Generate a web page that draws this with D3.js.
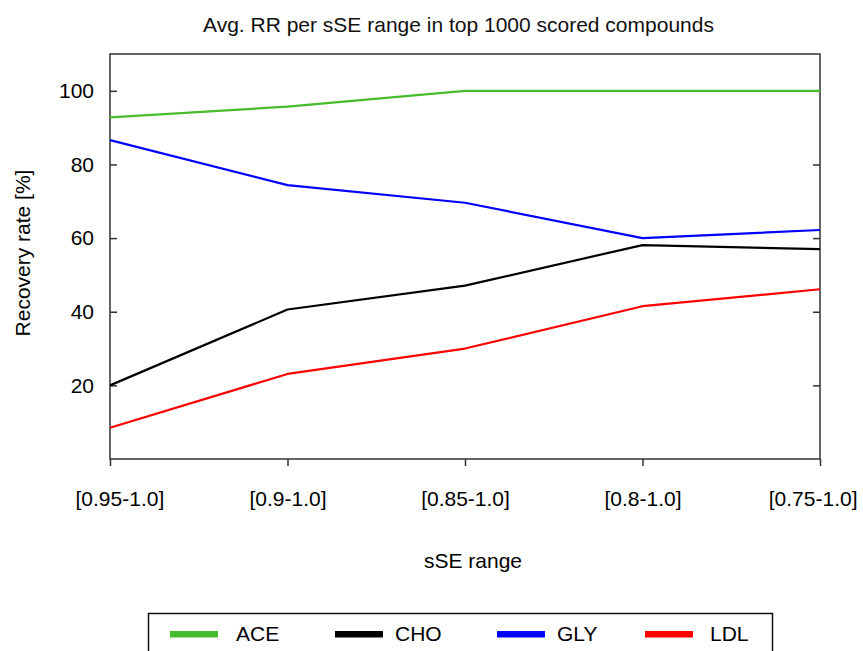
<!DOCTYPE html>
<html>
<head>
<meta charset="utf-8">
<script src="https://cdn.jsdelivr.net/npm/d3@7"></script>
<style>
  html, body { margin: 0; padding: 0; background: #fff; }
  svg { display: block; font-family: "Liberation Sans", Arial, Helvetica, sans-serif; }
</style>
</head>
<body>
<svg id="chart" width="863" height="651"></svg>
<script>
// sSE ranges on the x axis
const categories = ["[0.95-1.0]", "[0.9-1.0]", "[0.85-1.0]", "[0.8-1.0]", "[0.75-1.0]"];

// Average recovery rate (%) per range, one array per compound class
const ACE = [92.8, 95.7, 100, 100, 100];
const CHO = [20.0, 40.6, 47.1, 58.1, 57.0];
const GLY = [86.6, 74.4, 69.6, 60.0, 62.2];
const LDL = [8.5, 23.1, 30.0, 41.5, 46.1];

const seriesNames = ["ACE", "CHO", "GLY", "LDL"];
const seriesColors = ["#46bb2b", "#000000", "#0000ff", "#ff0000"];
const yTicks = [20, 40, 60, 80, 100];

const seriesValues = { ACE, CHO, GLY, LDL };

const W = 863, H = 651;
const plot = { left: 110, right: 820, top: 54, bottom: 459 };
const frameColor = "#333";
const fontSize = 21;

const svg = d3.select("#chart");

const x = d3.scalePoint().domain(categories).range([plot.left, plot.right]);
const y = d3.scaleLinear().domain([0, 110]).range([plot.bottom, plot.top]);

// Title
svg.append("text")
  .attr("x", 458.5).attr("y", 32)
  .attr("text-anchor", "middle")
  .attr("font-size", fontSize)
  .attr("fill", "#111")
  .text("Avg. RR per sSE range in top 1000 scored compounds");

// Left axis: inward ticks, labels to the left
const yAxisL = svg.append("g")
  .attr("transform", `translate(${plot.left},0)`)
  .call(d3.axisLeft(y).tickValues(yTicks).tickSize(-7).tickPadding(16).tickFormat(d3.format("d")));
yAxisL.select(".domain").remove();
yAxisL.selectAll(".tick line").attr("stroke", frameColor).attr("stroke-width", 1.5);
yAxisL.selectAll(".tick text").attr("font-size", fontSize).attr("fill", "#000")
  .attr("font-family", "Liberation Sans, Arial, sans-serif");

// Right axis mirror ticks
const yAxisR = svg.append("g")
  .attr("transform", `translate(${plot.right},0)`)
  .call(d3.axisRight(y).tickValues(yTicks).tickSize(-7).tickFormat(""));
yAxisR.select(".domain").remove();
yAxisR.selectAll(".tick line").attr("stroke", frameColor).attr("stroke-width", 1.5);

// Bottom axis: outward ticks
const xAxis = svg.append("g")
  .attr("transform", `translate(0,${plot.bottom})`)
  .call(d3.axisBottom(x).tickSize(7).tickPadding(25));
xAxis.select(".domain").remove();
xAxis.selectAll(".tick line").attr("stroke", frameColor).attr("stroke-width", 1.5);
xAxis.selectAll(".tick text").attr("font-size", fontSize).attr("fill", "#000")
  .attr("font-family", "Liberation Sans, Arial, sans-serif");

// Keep the outermost tick labels inside the drawing width
const labelMinX = 75, labelMaxX = 857;
xAxis.selectAll(".tick").each(function (d) {
  const t = d3.select(this).select("text");
  const w = t.node().getComputedTextLength();
  const cx = x(d);
  let shift = 0;
  if (cx - w / 2 < labelMinX) shift = labelMinX - (cx - w / 2);
  if (cx + w / 2 > labelMaxX) shift = labelMaxX - (cx + w / 2);
  t.attr("x", shift);
});

// Plot frame
svg.append("rect")
  .attr("x", plot.left).attr("y", plot.top)
  .attr("width", plot.right - plot.left).attr("height", plot.bottom - plot.top)
  .attr("fill", "none").attr("stroke", frameColor).attr("stroke-width", 1.5);

// Axis titles
svg.append("text")
  .attr("x", 473).attr("y", 568)
  .attr("text-anchor", "middle")
  .attr("font-size", fontSize)
  .text("sSE range");

svg.append("text")
  .attr("transform", `translate(30,253) rotate(-90)`)
  .attr("text-anchor", "middle")
  .attr("font-size", fontSize)
  .text("Recovery rate [%]");

// Series lines
const line = d3.line()
  .x((d, i) => x(categories[i]))
  .y(d => y(d));

seriesNames.forEach((name, k) => {
  svg.append("path")
    .datum(seriesValues[name])
    .attr("d", line)
    .attr("fill", "none")
    .attr("stroke", seriesColors[k])
    .attr("stroke-width", 2.2)
    .attr("stroke-linejoin", "round");
});

// Legend
const legend = svg.append("g");
legend.append("rect")
  .attr("x", 148.5).attr("y", 613.5)
  .attr("width", 624).attr("height", 60)
  .attr("fill", "#fff").attr("stroke", "#111").attr("stroke-width", 1.5);

const itemX = [170, 335, 497, 645];
const textGap = [18, 12, 12, 17];
const swatchLen = 48;
seriesNames.forEach((name, k) => {
  legend.append("line")
    .attr("x1", itemX[k]).attr("x2", itemX[k] + swatchLen)
    .attr("y1", 634.3).attr("y2", 634.3)
    .attr("stroke", seriesColors[k]).attr("stroke-width", 6.5);
  legend.append("text")
    .attr("x", itemX[k] + swatchLen + textGap[k]).attr("y", 641)
    .attr("font-size", fontSize)
    .text(name);
});
</script>
</body>
</html>
